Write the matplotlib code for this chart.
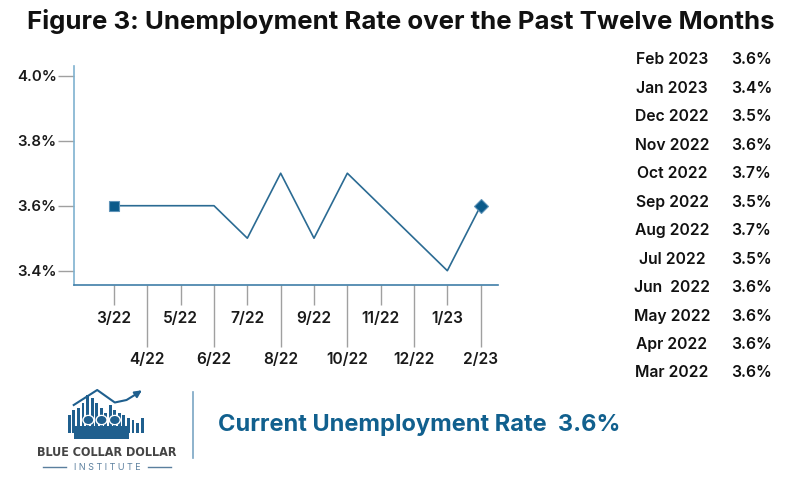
import matplotlib
matplotlib.use("Agg")
import matplotlib.pyplot as plt
from matplotlib.ticker import FixedLocator, FixedFormatter

plt.rcParams['font.family'] = ['Inter', 'DejaVu Sans']

months = ["3/22", "4/22", "5/22", "6/22", "7/22", "8/22", "9/22", "10/22",
          "11/22", "12/22", "1/23", "2/23"]
rates = [3.6, 3.6, 3.6, 3.6, 3.5, 3.7, 3.5, 3.7, 3.6, 3.5, 3.4, 3.6]
table_labels = ["Feb 2023", "Jan 2023", "Dec 2022", "Nov 2022", "Oct 2022",
                "Sep 2022", "Aug 2022", "Jul 2022", "Jun  2022", "May 2022",
                "Apr 2022", "Mar 2022"]
table_values = ["3.6%", "3.4%", "3.5%", "3.6%", "3.7%", "3.5%", "3.7%",
                "3.5%", "3.6%", "3.6%", "3.6%", "3.6%"]
yticks = [3.4, 3.6, 3.8, 4.0]
ytick_labels = ["3.4%", "3.6%", "3.8%", "4.0%"]
current_label = "Current Unemployment Rate  3.6%"

W, H = 800, 500
fig = plt.figure(figsize=(8, 5), dpi=100)

def fx(px):
    return px / W

def fy(py):
    return 1 - py / H

ax = fig.add_axes([fx(74), fy(285), fx(498) - fx(74), fy(66) - fy(285)])
x = list(range(len(months)))
line_color = '#2b6b93'
mark_color = '#0b5a8a'
ax.plot(x, rates, color=line_color, lw=1.2, zorder=3)
ax.plot(x[:1], rates[:1], marker='s', ms=7.5, color=mark_color,
        mec='#5f93b8', mew=0.8, ls='none', zorder=4)
ax.plot(x[-1:], rates[-1:], marker='D', ms=7.5, color=mark_color,
        mec='#5f93b8', mew=0.8, ls='none', zorder=4)

ax.set_xlim(-1.2, 11.52)
ax.set_ylim(3.356, 4.03)

for s in ['top', 'right']:
    ax.spines[s].set_visible(False)
ax.spines['left'].set_color('#7fb2d0')
ax.spines['bottom'].set_color('#3f7ea8')
ax.spines['left'].set_linewidth(1.2)
ax.spines['bottom'].set_linewidth(1.2)

ax.set_yticks(yticks)
ax.set_yticklabels(ytick_labels)
ax.tick_params(axis='y', length=11.5, width=1, color='#a0a0a0', pad=1,
               labelsize=10.8, labelcolor='#1a1a1a')
for t in ax.get_yticklabels():
    t.set_fontweight('semibold')

major_idx = x[0::2]
minor_idx = x[1::2]
ax.xaxis.set_major_locator(FixedLocator(major_idx))
ax.xaxis.set_major_formatter(FixedFormatter([months[i] for i in major_idx]))
ax.xaxis.set_minor_locator(FixedLocator(minor_idx))
ax.xaxis.set_minor_formatter(FixedFormatter([months[i] for i in minor_idx]))
ax.tick_params(axis='x', which='major', length=14.4, width=1, color='#a0a0a0',
               pad=4.5, labelsize=11.2, labelcolor='#1a1a1a')
ax.tick_params(axis='x', which='minor', length=44.6, width=1, color='#a0a0a0',
               pad=3.5, labelsize=11.2, labelcolor='#1a1a1a')
for t in ax.get_xticklabels(which='both'):
    t.set_fontweight('semibold')

# Title
fig.text(fx(401), fy(22), "Figure 3: Unemployment Rate over the Past Twelve Months",
         ha='center', va='center', fontsize=18.6, fontweight='bold', color='#111111')

# Table
for i, (lab, val) in enumerate(zip(table_labels, table_values)):
    yy = 60 + i * 28.45
    fig.text(fx(672), fy(yy), lab, ha='center', va='center', fontsize=11.3,
             fontweight='semibold', color='#111111')
    fig.text(fx(731), fy(yy), val, ha='left', va='center', fontsize=11.3,
             fontweight='semibold', color='#111111')

# Divider and current rate
fig.add_artist(plt.Line2D([fx(193), fx(193)], [fy(392), fy(458)],
                          color='#7aa5c4', lw=1.2))
fig.text(fx(218), fy(425), current_label, ha='left', va='center',
         fontsize=17, fontweight='bold', color='#11608e')

# Logo (decorative)
lax = fig.add_axes([fx(62), fy(440), fx(150) - fx(62), fy(385) - fy(440)])
lax.set_xlim(0, 30)
lax.set_ylim(0, 22)
lax.axis('off')
logo_blue = '#1f5f8e'
bar_h = [7, 9, 10, 12, 15, 14, 12, 10, 8, 11, 9, 8, 7, 6, 5, 4, 6]
for i, h in enumerate(bar_h):
    lax.add_patch(plt.Rectangle((2 + i * 1.55, 3), 1.0, h, color=logo_blue, lw=0))
lax.add_patch(plt.Rectangle((4, 0.5), 19, 5, color=logo_blue, lw=0))
for cx in [9, 13.5, 18]:
    lax.add_patch(plt.Circle((cx, 8), 2.1, color='white', lw=0))
    lax.add_patch(plt.Circle((cx, 8), 1.6, color=logo_blue, lw=0))
lax.plot([4, 12, 18, 22, 25.5], [14, 20, 15, 16, 18.5], color=logo_blue, lw=1.5)
lax.annotate('', xy=(28, 20.5), xytext=(25.5, 18.5), annotation_clip=False,
             arrowprops=dict(arrowstyle='-|>', color=logo_blue, lw=1.5,
                             mutation_scale=10))

fig.text(fx(107), fy(452), "BLUE COLLAR DOLLAR", ha='center', va='center',
         fontsize=9, color='#444444', fontweight='bold', fontstretch='condensed',
         family=['DejaVu Sans'])
fig.text(fx(107), fy(467), "I N S T I T U T E", ha='center', va='center',
         fontsize=6.5, color='#5a7f9e')
fig.add_artist(plt.Line2D([fx(43), fx(66)], [fy(467), fy(467)], color='#5a7f9e', lw=1))
fig.add_artist(plt.Line2D([fx(148), fx(171)], [fy(467), fy(467)], color='#5a7f9e', lw=1))

fig.savefig("out.png", dpi=100)
